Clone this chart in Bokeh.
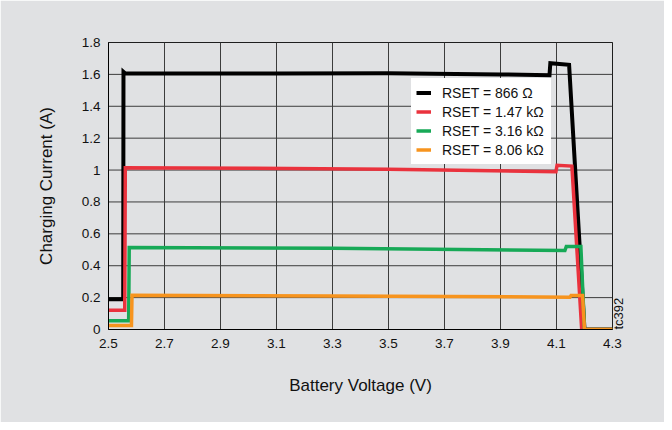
import math
from bokeh.plotting import figure
from bokeh.models import FixedTicker, Legend, LegendItem, LinearAxis, Span
from bokeh.embed import file_html
from bokeh.resources import INLINE

# ---- data ----
x_ticks = [2.5, 2.7, 2.9, 3.1, 3.3, 3.5, 3.7, 3.9, 4.1, 4.3]
x_tick_labels = ["2.5", "2.7", "2.9", "3.1", "3.3", "3.5", "3.7", "3.9", "4.1", "4.3"]
y_ticks = [0, 0.2, 0.4, 0.6, 0.8, 1.0, 1.2, 1.4, 1.6, 1.8]
y_tick_labels = ["0", "0.2", "0.4", "0.6", "0.8", "1", "1.2", "1.4", "1.6", "1.8"]

series_names = ["RSET = 866 Ω", "RSET = 1.47 kΩ", "RSET = 3.16 kΩ", "RSET = 8.06 kΩ"]
series_colors = ["#000000", "#ea323d", "#17a957", "#f7941e"]

v_866 = [2.5, 2.5525, 2.5535, 2.56, 2.8, 3.1, 3.5, 3.9, 4.075, 4.078, 4.145, 4.2, 4.3]
i_866 = [0.19, 0.19, 1.615, 1.605, 1.605, 1.605, 1.607, 1.6, 1.595, 1.67, 1.66, 0, 0]

v_147 = [2.5, 2.558, 2.56, 3.0, 3.5, 4.098, 4.102, 4.155, 4.19, 4.3]
i_147 = [0.12, 0.12, 1.015, 1.012, 1.005, 0.99, 1.03, 1.025, 0, 0]

v_316 = [2.5, 2.572, 2.574, 3.3, 4.13, 4.135, 4.187, 4.2, 4.3]
i_316 = [0.055, 0.055, 0.515, 0.51, 0.495, 0.52, 0.52, 0, 0]

v_806 = [2.5, 2.582, 2.584, 3.3, 4.148, 4.152, 4.193, 4.2, 4.3]
i_806 = [0.025, 0.025, 0.215, 0.21, 0.203, 0.213, 0.213, 0, 0]

series_v = [v_866, v_147, v_316, v_806]
series_i = [i_866, i_147, i_316, i_806]
series_widths = [4, 3.5, 3.5, 3.5]

FONT = "Liberation Sans"
BG = "#e0e1e3"
TXT = "#111111"
GRID = "#3c3c3c"

p = figure(
    x_range=(2.5, 4.3), y_range=(0, 1.8),
    frame_width=504, frame_height=287,
    min_border_left=108, min_border_right=52,
    min_border_top=42, min_border_bottom=93,
    output_backend="svg", toolbar_location=None,
    background_fill_color=BG, border_fill_color=BG,
)
p.outline_line_color = "#000000"
p.outline_line_width = 1

for ax in (p.xaxis[0], p.yaxis[0]):
    ax.major_tick_out = 0
    ax.major_tick_in = 0
    ax.minor_tick_out = 0
    ax.minor_tick_in = 0
    ax.axis_line_color = "#000000"
    ax.major_label_text_font = FONT
    ax.major_label_text_font_size = "13.5px"
    ax.major_label_text_color = TXT
    ax.axis_label_text_font = FONT
    ax.axis_label_text_font_size = "17px"
    ax.axis_label_text_font_style = "normal"
    ax.axis_label_text_color = TXT

xt = FixedTicker(ticks=x_ticks)
yt = FixedTicker(ticks=y_ticks)
p.xaxis.ticker = xt
p.yaxis.ticker = yt
p.xaxis.major_label_overrides = {t: l for t, l in zip(x_ticks, x_tick_labels)}
p.yaxis.major_label_overrides = {t: l for t, l in zip(y_ticks, y_tick_labels)}
p.xaxis.axis_label = "Battery Voltage (V)"
p.yaxis.axis_label = "Charging Current (A)"
p.xaxis.major_label_standoff = 9
p.yaxis.major_label_standoff = 8
p.xaxis.axis_label_standoff = 25
p.yaxis.axis_label_standoff = 23

# grid lines at the tick positions
p.xgrid.visible = False
p.ygrid.visible = False
for t in x_ticks:
    p.add_layout(Span(location=t, dimension="height", line_color=GRID,
                      line_width=1, level="underlay"))
for t in y_ticks:
    p.add_layout(Span(location=t, dimension="width", line_color=GRID,
                      line_width=1, level="underlay"))

items = []
for name, col, vv, ii, w in zip(series_names, series_colors, series_v, series_i, series_widths):
    r = p.line(vv, ii, line_color=col, line_width=w, line_join="miter")
    items.append(LegendItem(label=name, renderers=[r]))

legend = Legend(
    items=items, location=(303, 165),
    background_fill_color="white", background_fill_alpha=1,
    border_line_alpha=0,
    label_text_font=FONT, label_text_font_size="14px", label_text_color=TXT,
    glyph_width=15, glyph_height=19, label_height=19, label_standoff=11,
    label_width=104, padding=5, spacing=0, margin=0,
)
p.add_layout(legend)

# small figure tag on the right, reading upward, near the bottom
tag_axis = LinearAxis(axis_label="tc392", ticker=FixedTicker(ticks=[]),
                      axis_line_alpha=0, major_tick_out=0, major_tick_in=0,
                      minor_tick_out=0, minor_tick_in=0,
                      major_label_text_alpha=0,
                      axis_label_text_font=FONT, axis_label_text_font_size="13px",
                      axis_label_text_font_style="normal", axis_label_text_color=TXT,
                      axis_label_standoff=6, axis_label_orientation=math.pi / 2)
if "axis_label_align" in LinearAxis.properties():
    tag_axis.axis_label_align = "start"
p.add_layout(tag_axis, "right")

open("out.html", "w").write(file_html(p, INLINE))
